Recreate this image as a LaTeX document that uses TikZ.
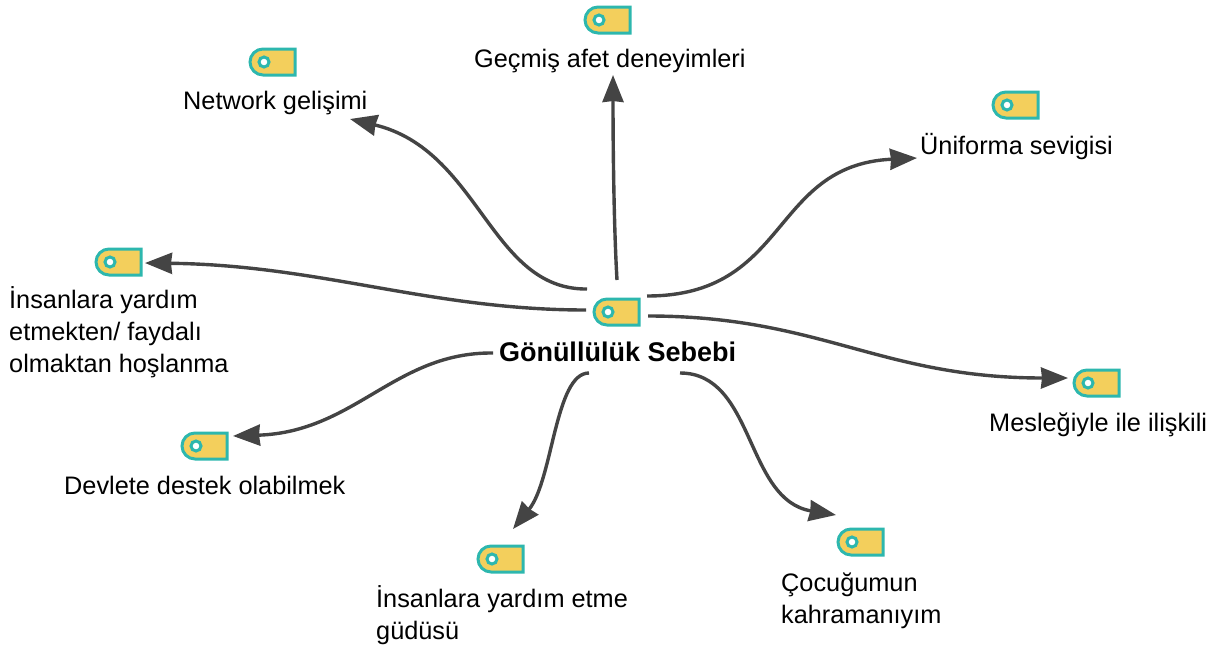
\documentclass[tikz,border=0pt]{standalone}
\usepackage{fontspec}
\setmainfont{Liberation Sans}
\usetikzlibrary{arrows.meta}
\definecolor{tagfill}{HTML}{F3CF5C}
\definecolor{tagline}{HTML}{2DB7AE}
\definecolor{conn}{HTML}{444444}
\tikzset{
  x=1pt,y=-1pt,
  tagbody/.style={draw=tagline,line width=3pt,fill=tagfill},
  taghole/.style={draw=tagline,line width=3pt,fill=white},
  taganchor/.style={minimum width=46pt,minimum height=28pt,inner sep=0pt},
  label/.style={font=\fontsize{25.3}{32}\selectfont,align=left,anchor=north west,inner sep=0pt},
  conn/.style={draw=conn,line width=3.4pt,-{Stealth[length=27pt,width=21pt,inset=1pt]}},
}
\newcommand{\tagicon}[3]{%
  \path[tagbody] (#2+22,#3-13) -- (#2-10,#3-13) arc[start angle=90,end angle=270,radius=13pt]
     -- (#2+22,#3+13) -- cycle;
  \path[taghole] (#2-9,#3) circle[radius=5pt];
  \node[taganchor] (#1) at (#2,#3) {};
}
\begin{document}
\begin{tikzpicture}
\useasboundingbox (0,0) rectangle (1214,645);
\tagicon{main}{617}{312}
\tagicon{netI}{273}{62}
\tagicon{gecI}{608}{20}
\tagicon{uniI}{1016}{105}
\tagicon{insI}{119}{262}
\tagicon{mesI}{1097}{383}
\tagicon{devI}{205}{446}
\tagicon{gudI}{501}{559}
\tagicon{cocI}{861}{542}
\node[label,font=\fontsize{27}{32}\selectfont\bfseries,anchor=north] (mainT) at (617.5,342) {Gönüllülük Sebebi};
\node[label] (netT) at (183,91) {Network gelişimi};
\node[label] (gecT) at (474,49) {Geçmiş afet deneyimleri};
\node[label] (uniT) at (920,133) {Üniforma sevigisi};
\node[label] (insT) at (9,286.5) {İnsanlara yardım\\etmekten/ faydalı\\olmaktan hoşlanma};
\node[label] (mesT) at (989,413) {Mesleğiyle ile ilişkili};
\node[label] (devT) at (64,476) {Devlete destek olabilmek};
\node[label] (gudT) at (376,585) {İnsanlara yardım etme\\güdüsü};
\node[label] (cocT) at (781,573) {Çocuğumun\\kahramanıyım};
\coordinate (s1) at (587,289);
\coordinate (s2) at (617,280);
\coordinate (s3) at (647,296);
\coordinate (s4) at (586,310);
\coordinate (s5) at (648,316);
\coordinate (s6) at (493,353);
\coordinate (s7) at (589,373);
\coordinate (s8) at (680,373);
\coordinate (e1) at (350,119);
\coordinate (e2) at (613,75);
\coordinate (e3) at (917,158);
\coordinate (e4) at (145,263);
\coordinate (e5) at (1068,378);
\coordinate (e6) at (233,436);
\coordinate (e7) at (513,529);
\coordinate (e8) at (836,515);
\draw[conn] (s1) .. controls (490,290) and (480,150) .. (e1);
\draw[conn] (s2) .. controls (614,230) and (613,150) .. (e2);
\draw[conn] (s3) .. controls (790,296) and (770,165) .. (e3);
\draw[conn] (s4) .. controls (430,310) and (320,265) .. (e4);
\draw[conn] (s5) .. controls (820,316) and (880,378) .. (e5);
\draw[conn] (s6) .. controls (395,352) and (355,432) .. (e6);
\draw[conn] (s7) .. controls (555,373) and (553,480) .. (e7);
\draw[conn] (s8) .. controls (755,373) and (745,500) .. (e8);
\end{tikzpicture}
\end{document}
